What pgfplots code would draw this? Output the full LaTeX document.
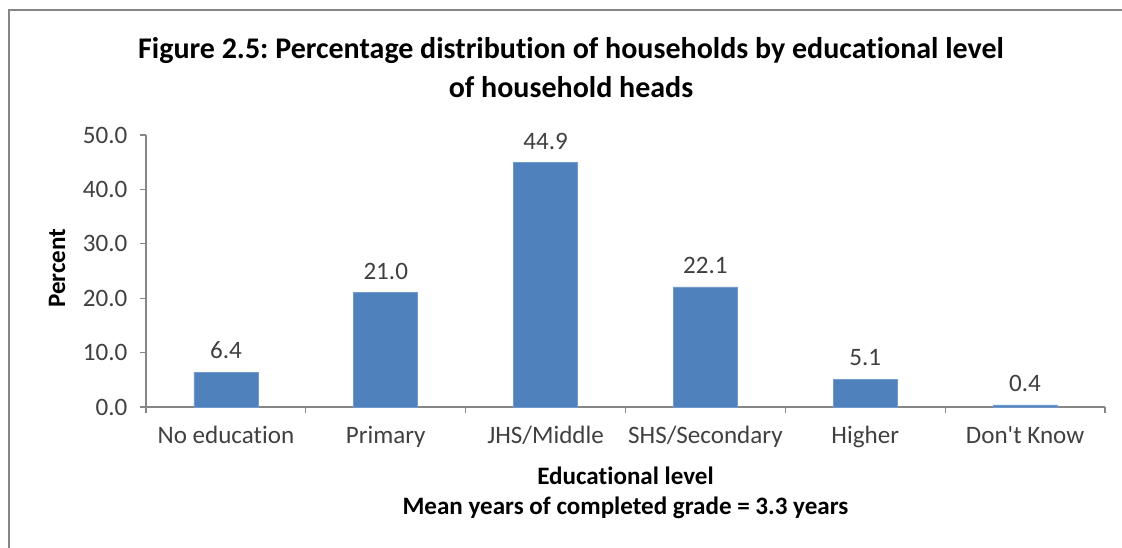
\documentclass[border=0pt]{standalone}
\usepackage{fontspec}
\setmainfont{Carlito}[Ligatures={NoCommon,TeXOff}]
\usepackage{pgfplots}
\pgfplotsset{compat=1.18}
\definecolor{barblue}{HTML}{4F81BD}
\definecolor{axgray}{HTML}{868686}
\definecolor{txt}{HTML}{404040}
\frenchspacing
\begin{document}
\begin{tikzpicture}[x=0.75pt,y=0.75pt]
\useasboundingbox (0,0) rectangle (1122,-548);
\draw[axgray, line width=1.5pt] (8.5,-548) -- (8.5,-10) -- (1122,-10);
\node[align=center, font=\fontsize{22.5}{29.25}\selectfont\bfseries] at (571,-67.5)
  {Figure 2.5: Percentage distribution of households by educational level\\of household heads};
\begin{axis}[
  at={(109.5pt,-305.25pt)}, anchor=south west,
  scale only axis, width=719.25pt, height=204pt,
  xmin=-0.5, xmax=5.5, ymin=0, ymax=50,
  axis lines*=left,
  axis line style={axgray, line width=0.9pt},
  tick align=outside,
  major tick length=4.5pt,
  every tick/.style={axgray, line width=0.9pt},
  ytick={0,10,...,50},
  /pgf/number format/fixed, /pgf/number format/fixed zerofill, /pgf/number format/precision=1, /pgf/number format/assume math mode=true,
  ticklabel style={font=\fontsize{18.8}{22}\selectfont, text=txt},
  yticklabel style={xshift=-6pt},
  xtick={-0.5,0.5,...,5.5},
  xticklabels={},
  extra x ticks={0,1,2,3,4,5},
  extra x tick labels={No education,Primary,JHS/Middle,SHS/Secondary,Higher,Don't Know},
  extra x tick style={major tick length=0pt, xticklabel style={yshift=-11pt}},
  ylabel={Percent},
  ylabel style={at={(axis description cs:-0.0928,0.51)}, anchor=center, font=\fontsize{18.8}{22}\selectfont\bfseries},
  xlabel={Educational level},
  xlabel style={at={(axis description cs:0.5,-0.254)}, anchor=center, font=\fontsize{18.8}{22}\selectfont\bfseries},
  nodes near coords,
  nodes near coords style={font=\fontsize{18.8}{22}\selectfont, text=txt, yshift=6.5pt},
  clip=false,
]
\addplot[ybar, bar width=48pt, fill=barblue, draw=barblue!80!white] coordinates {
  (0,6.4) (1,21.0) (2,44.9) (3,22.1) (4,5.1) (5,0.4)
};
\node[font=\fontsize{18.8}{22}\selectfont\bfseries] at (axis description cs:0.5,-0.371) {Mean years of completed grade = 3.3 years};
\end{axis}
\end{tikzpicture}
\end{document}
